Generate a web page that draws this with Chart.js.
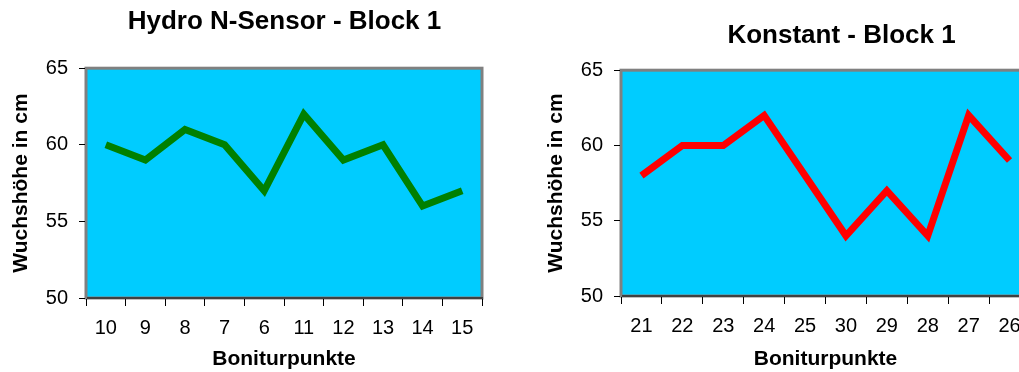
<!DOCTYPE html>
<html>
<head>
<meta charset="utf-8">
<script src="https://cdn.jsdelivr.net/npm/chart.js@4.4.0/dist/chart.umd.min.js"></script>
<style>
  html, body { margin: 0; padding: 0; background: #fff; }
  body { width: 1019px; height: 372px; overflow: hidden; position: relative; }
  canvas { position: absolute; top: 0; }
  #left  { left: 0; }
  #right { left: 535px; }
</style>
</head>
<body>
<canvas id="left" width="569" height="372"></canvas>
<canvas id="right" width="613" height="372"></canvas>
<script>
const leftTitle   = 'Hydro N-Sensor - Block 1'
const leftLabels  = ['10', '9', '8', '7', '6', '11', '12', '13', '14', '15']
const leftValues  = [60, 59, 61, 60, 57, 62, 59, 60, 56, 57]

const rightTitle  = 'Konstant - Block 1'
const rightLabels = ['21', '22', '23', '24', '25', '30', '29', '28', '27', '26']
const rightValues = [58, 60, 60, 62, 58, 54, 57, 54, 62, 59]

const yTicks  = [50, 55, 60, 65]
const xTitle  = 'Boniturpunkte'
const yTitle  = 'Wuchshöhe in cm'

const FONT = "'Liberation Sans', Arial, sans-serif"

// plot background + gray frame like the Excel original
const plotFrame = {
  id: 'plotFrame',
  beforeDraw(chart) {
    const { ctx, chartArea: a } = chart
    ctx.save()
    ctx.fillStyle = '#00CCFF'
    ctx.fillRect(a.left, a.top, a.right - a.left, a.bottom - a.top)
    ctx.strokeStyle = '#808080'
    ctx.lineWidth = 3
    ctx.strokeRect(a.left, a.top, a.right - a.left, a.bottom - a.top)
    ctx.restore()
  }
}

function makeChart(el, cfg) {
  return new Chart(el, {
    type: 'line',
    data: {
      labels: cfg.labels,
      datasets: [{
        data: cfg.values,
        borderColor: cfg.color,
        borderWidth: 7,
        borderJoinStyle: 'miter',
        pointRadius: 0,
        tension: 0,
      }],
    },
    options: {
      responsive: false,
      animation: false,
      events: [],
      layout: { padding: 0 },
      plugins: {
        legend:  { display: false },
        tooltip: { enabled: false },
        title: {
          display: true,
          text: cfg.title,
          color: '#000',
          font: { family: FONT, size: 26, weight: 'bold' },
          padding: { top: cfg.titleTop, bottom: cfg.titleBottom },
        },
      },
      scales: {
        x: {
          offset: true,
          afterFit: (s) => { s.height = cfg.xHeight },
          grid: { offset: true, drawOnChartArea: false, tickLength: 8, color: '#000' },
          border: { color: '#404040', width: 2 },
          ticks: { color: '#000', padding: 10, maxRotation: 0, font: { family: FONT, size: 20 } },
          title: {
            display: true, text: xTitle, color: '#000',
            font: { family: FONT, size: 21, weight: 'bold' },
            padding: { top: 0, bottom: 0 },
          },
        },
        y: {
          min: 50,
          max: 65,
          afterFit: (s) => { s.width = 86 },
          afterBuildTicks: (s) => { s.ticks = yTicks.map(v => ({ value: v })) },
          grid: { drawOnChartArea: false, tickLength: 7, color: '#000' },
          border: { color: '#808080', width: 2 },
          ticks: { color: '#000', padding: 11, font: { family: FONT, size: 20 } },
          title: {
            display: true, text: yTitle, color: '#000',
            font: { family: FONT, size: 21, weight: 'bold' },
            padding: { top: 9, bottom: 0 },
          },
        },
        // empty right-hand box, keeps the title centred on the whole canvas
        spacer: {
          position: 'right',
          display: true,
          afterFit: (s) => { s.width = cfg.padRight },
          grid: { display: false },
          border: { display: false },
          ticks: { display: false },
        },
      },
    },
    plugins: [plotFrame],
  })
}

makeChart(document.getElementById('left'), {
  title: leftTitle, labels: leftLabels, values: leftValues, color: '#008000',
  padRight: 87, titleTop: 6, titleBottom: 31, xHeight: 74,
})

makeChart(document.getElementById('right'), {
  title: rightTitle, labels: rightLabels, values: rightValues, color: '#FF0000',
  padRight: 118, titleTop: 20, titleBottom: 19, xHeight: 76,
})
</script>
</body>
</html>
